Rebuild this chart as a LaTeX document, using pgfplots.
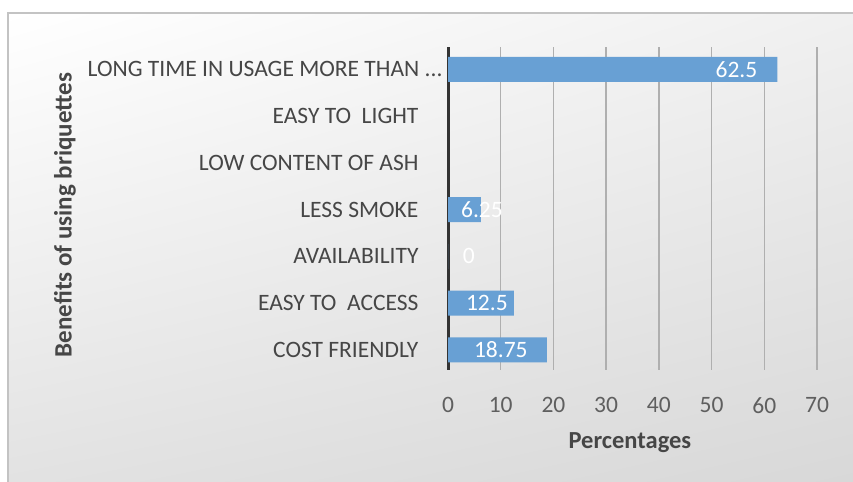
\documentclass[border=0pt]{standalone}
\usepackage{pgfplots}
\pgfplotsset{compat=1.18}
\usepackage{pgfplotstable}
\usetikzlibrary{shadings}
\usepackage{fontspec}
\setmainfont{Carlito}

\definecolor{barblue}{RGB}{104,160,212}
\definecolor{labelgray}{RGB}{70,70,70}
\definecolor{tickgray}{RGB}{95,95,95}
\definecolor{gridgray}{RGB}{175,175,175}
\definecolor{framegray}{RGB}{195,195,195}
\definecolor{bgUR}{RGB}{240,240,240}
\definecolor{bgLL}{RGB}{226,226,226}
\definecolor{bgLR}{RGB}{216,216,216}

% position on the category axis, share in percent, label offset
\pgfplotstableread{
pos val dx
0 18.75 -19
1 12.5  -6
2 0     27
3 6.25  22
6 62.5  -20
}\benefits

% three separate dots (a literal "..." would be read as a range by pgffor)
\newcommand{\threedots}{.\kern0pt.\kern0pt.}

\begin{document}
\begin{tikzpicture}[x=1bp,y=1bp]
\useasboundingbox (0,0) rectangle (853,482);
% panel background with soft diagonal shading
\shade[upper left=white, upper right=bgUR, lower left=bgLL, lower right=bgLR]
  (8,0) rectangle (853,469);
\draw[framegray, line width=2bp] (8,0) -- (8,469) -- (853,469);

\begin{axis}[
  at={(448bp,112bp)}, anchor=south west,
  scale only axis,
  width=369bp, height=323bp,
  xmin=0, xmax=70,
  ymin=-0.43, ymax=6.48,
  xtick={0,10,20,30,40,50,60,70},
  ytick={0,1,2,3,4,5,6},
  yticklabels={COST FRIENDLY, EASY TO\ \ ACCESS, AVAILABILITY, LESS SMOKE,
    LOW CONTENT OF ASH, EASY TO\ \ LIGHT,
    {LONG TIME IN USAGE MORE THAN \threedots\hspace*{-24bp}}},
  /pgf/number format/assume math mode=true,
  axis line style={draw=none},
  major tick length=0pt,
  xmajorgrids,
  grid style={gridgray, line width=1.4bp},
  extra x ticks={0},
  extra x tick labels={},
  extra x tick style={grid style={black!80, line width=3bp}},
  tick label style={font=\fontsize{23.5bp}{27bp}\selectfont},
  xticklabel style={text=tickgray, anchor=north, yshift=-24bp},
  yticklabel style={text=labelgray, anchor=east, xshift=-26bp},
  xlabel={Percentages},
  xlabel style={font=\bfseries\fontsize{24.5bp}{28bp}\selectfont, text=labelgray,
    at={(axis description cs:0.493,-0.226)}, anchor=center},
  ylabel={Benefits of using briquettes},
  ylabel style={font=\bfseries\fontsize{25bp}{29bp}\selectfont, text=labelgray,
    at={(axis description cs:-1.038,0.48)}, anchor=center},
  clip=false,
]
\addplot[xbar, bar width=25bp, fill=barblue, draw=none,
  nodes near coords,
  visualization depends on={\thisrow{dx} \as \dx},
  every node near coord/.append style={anchor=east, xshift=\dx bp,
    text=white, inner sep=0pt, font=\fontsize{23.5bp}{27bp}\selectfont},
] table[x=val, y=pos] {\benefits};
\end{axis}
\end{tikzpicture}
\end{document}
